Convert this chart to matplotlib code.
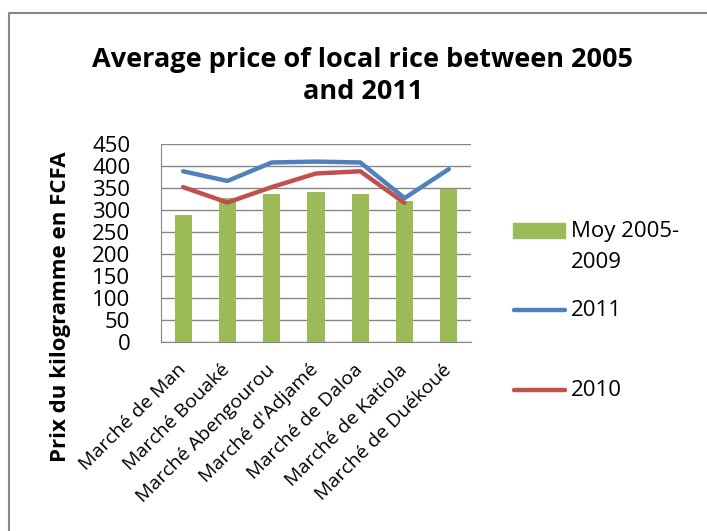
import matplotlib.pyplot as plt
from matplotlib.lines import Line2D
from matplotlib.patches import Rectangle

markets = ["Marché de Man", "Marché Bouaké", "Marché Abengourou", "Marché d'Adjamé",
           "Marché de Daloa", "Marché de Katiola", "Marché de Duékoué"]
moy_2005_2009 = [289, 328, 337, 342, 337, 321, 347]
prix_2011 = [388, 366, 408, 410, 408, 327, 393]
prix_2010 = [352, 317, 352, 383, 388, 316]

green = '#9BBB59'
blue = '#4F81BD'
red = '#C0504D'
grid_col = '#868686'

plt.rcParams['font.family'] = ['Open Sans', 'DejaVu Sans']

fig = plt.figure(figsize=(7.07, 5.31), dpi=100)
ax = fig.add_axes([161 / 707, 1 - 342 / 531, 310 / 707, 198 / 531])

x = list(range(len(markets)))
ax.bar(x, moy_2005_2009, width=0.39, color=green, zorder=2)
ax.plot(x, prix_2011, color=blue, lw=3.2, solid_capstyle='round', zorder=3)
ax.plot(x[:len(prix_2010)], prix_2010, color=red, lw=3.2, solid_capstyle='round', zorder=3)

ax.set_xlim(-0.5, len(markets) - 0.5)
ax.set_ylim(0, 450)
ax.set_yticks(range(0, 451, 50))
ax.yaxis.grid(True, color=grid_col, lw=1)
ax.set_axisbelow(True)
for s in ['top', 'right']:
    ax.spines[s].set_visible(False)
for s in ['left', 'bottom']:
    ax.spines[s].set_color(grid_col)
ax.tick_params(axis='y', labelsize=16, length=0, pad=22)
ax.tick_params(axis='x', length=0, pad=18)
ax.set_xticks(x)
ax.set_xticklabels(markets, rotation=45, ha='right', va='center',
                   rotation_mode='anchor', fontsize=14)

fig.text(363 / 707, 1 - 76 / 531,
         "Average price of local rice between 2005\nand 2011",
         ha='center', va='center', fontsize=19.5, fontweight='bold', linespacing=1.3)
fig.text(61 / 707, 1 - 307 / 531, "Prix du kilogramme en FCFA", rotation=90,
         ha='center', va='center', fontsize=16, fontweight='bold')

# légende
fig.patches.append(Rectangle((513 / 707, 1 - 238 / 531), 52 / 707, 15 / 531,
                             transform=fig.transFigure, color=green))
fig.text(571 / 707, 1 - 232 / 531, "Moy 2005-", fontsize=16, va='center')
fig.text(571 / 707, 1 - 262 / 531, "2009", fontsize=16, va='center')
fig.lines.append(Line2D([514 / 707, 565 / 707], [1 - 310 / 531] * 2,
                        transform=fig.transFigure, color=blue, lw=3.2,
                        solid_capstyle='round'))
fig.text(571 / 707, 1 - 311 / 531, "2011", fontsize=16, va='center')
fig.lines.append(Line2D([514 / 707, 565 / 707], [1 - 390 / 531] * 2,
                        transform=fig.transFigure, color=red, lw=3.2,
                        solid_capstyle='round'))
fig.text(571 / 707, 1 - 391 / 531, "2010", fontsize=16, va='center')

# cadre du graphique
fig.lines.append(Line2D([9 / 707, 9 / 707, 1], [0, 1 - 13 / 531, 1 - 13 / 531],
                        transform=fig.transFigure, color=grid_col, lw=1.5))

fig.savefig('out.png', dpi=100)
